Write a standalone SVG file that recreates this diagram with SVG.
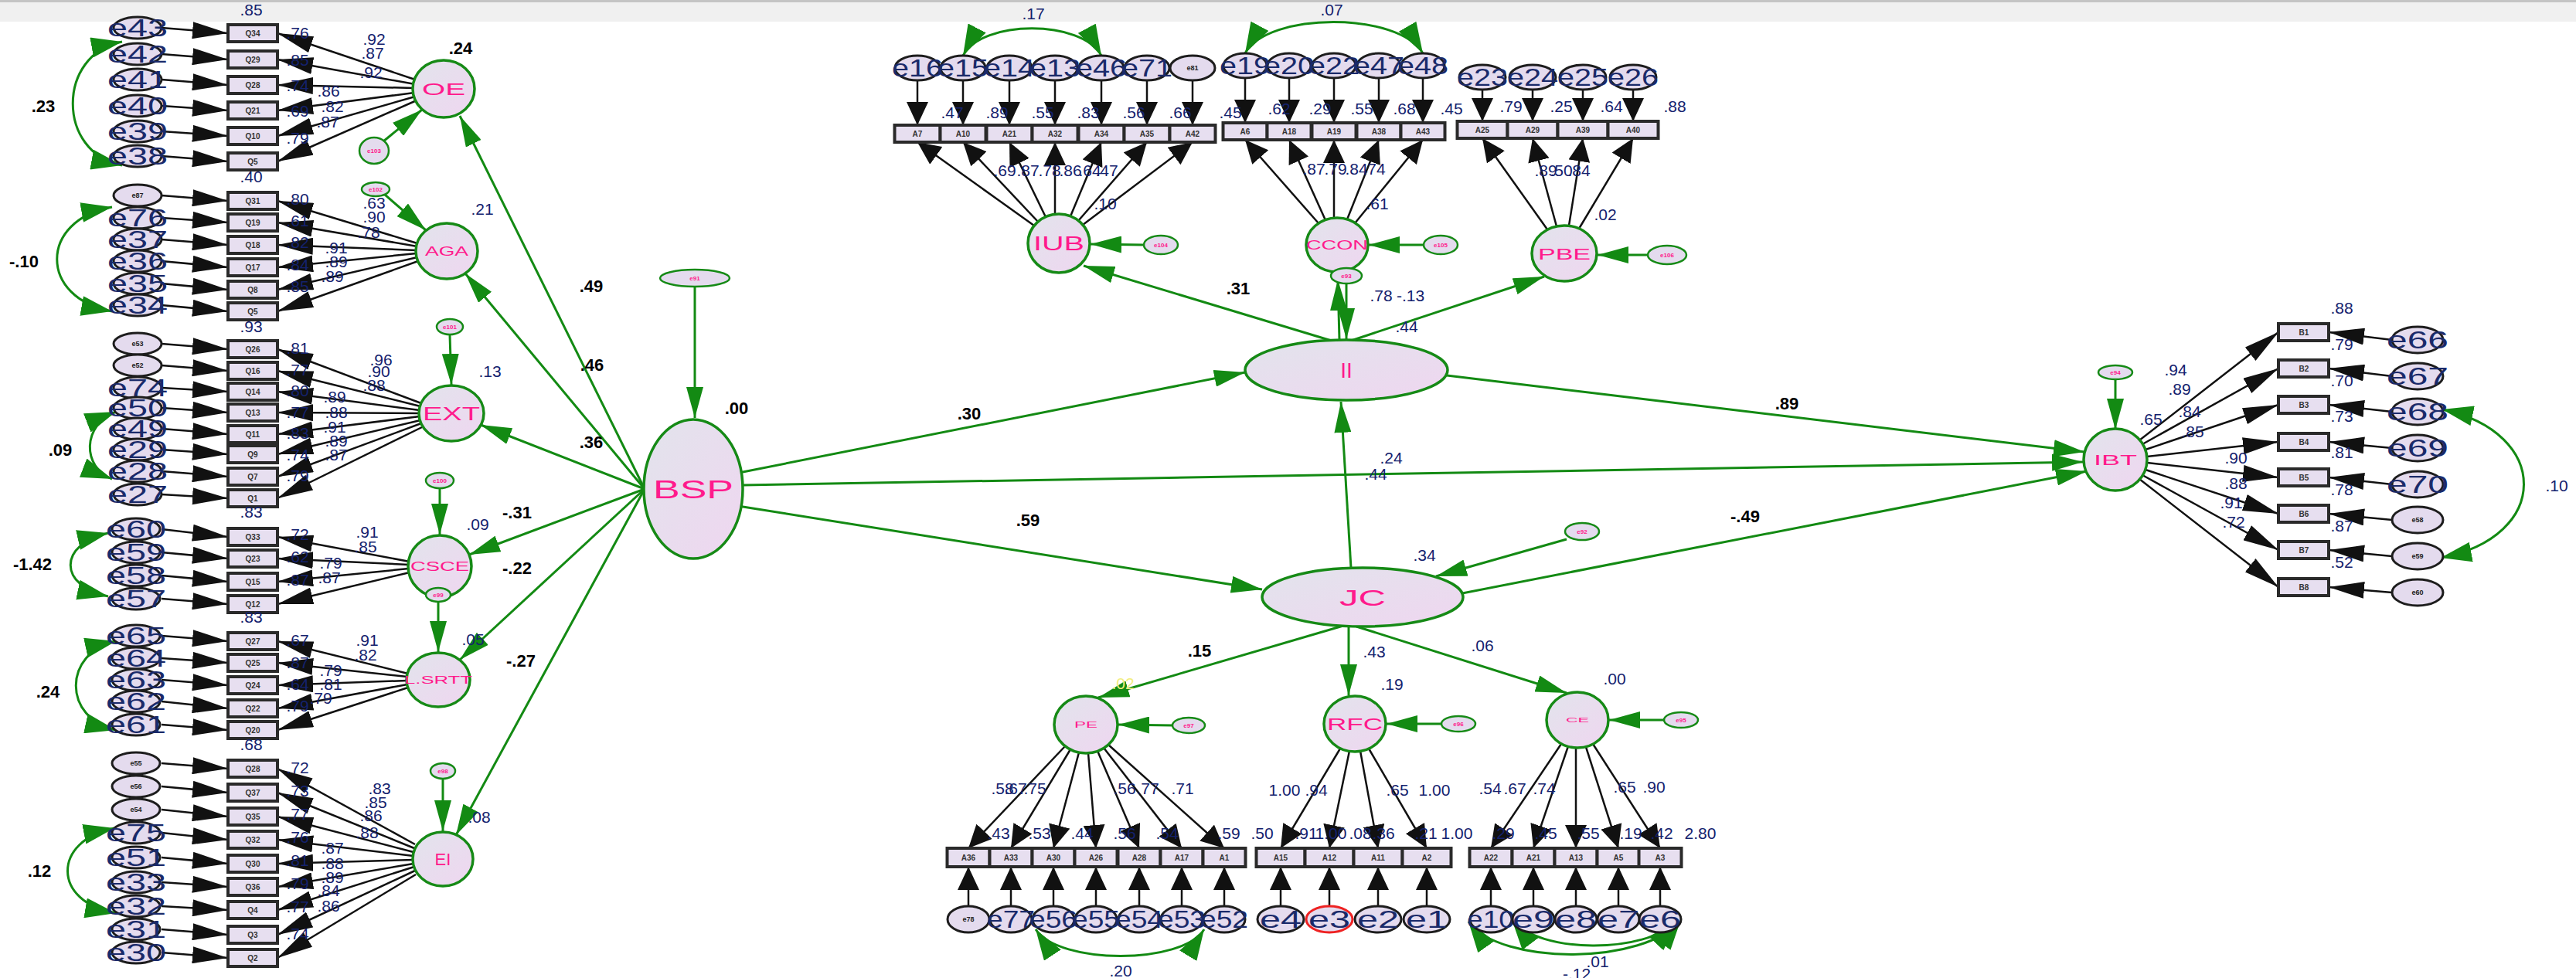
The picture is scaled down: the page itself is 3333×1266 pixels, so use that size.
<svg xmlns="http://www.w3.org/2000/svg" width="3333" height="1266" viewBox="0 0 3333 1266">
<defs>
<linearGradient id="lg" x1="0" y1="0" x2="1" y2="1"><stop offset="0" stop-color="#e2e4ec"/><stop offset="1" stop-color="#efd6f0"/></linearGradient>
<marker id="mb" markerUnits="userSpaceOnUse" viewBox="0 0 46 22" markerWidth="46" markerHeight="22" refX="46" refY="11" orient="auto"><path d="M0,0L46,11L0,22z" fill="#111"/></marker>
<marker id="mv" markerUnits="userSpaceOnUse" viewBox="0 0 30 28" markerWidth="30" markerHeight="28" refX="30" refY="14" orient="auto"><path d="M0,0L30,14L0,28z" fill="#111"/></marker>
<marker id="mg" markerUnits="userSpaceOnUse" viewBox="0 0 40 22" markerWidth="40" markerHeight="22" refX="40" refY="11" orient="auto"><path d="M0,0L40,11L0,22z" fill="#138a13"/></marker>
<marker id="ma" markerUnits="userSpaceOnUse" viewBox="0 0 40 26" markerWidth="40" markerHeight="26" refX="40" refY="13" orient="auto-start-reverse"><path d="M0,0L40,13L0,26z" fill="#138a13"/></marker>
</defs>
<style>
.lat{fill:url(#lg);stroke:#168a16;stroke-width:3.5}
.lt{fill:#ff1a8c;font-family:"Liberation Sans",Arial,sans-serif;text-anchor:middle;dominant-baseline:central}
.err{fill:#e4dbee;stroke:#1d1d1d;stroke-width:3}
.res{fill:#e4dbee;stroke:#168a16;stroke-width:2.5}
.rt{fill:#ff1a8c;font-family:"Liberation Sans",sans-serif;font-size:8px;font-weight:bold;text-anchor:middle;dominant-baseline:central}
.et{fill:#1a2a6a;font-family:"Liberation Sans",sans-serif;font-size:32px;text-anchor:middle;dominant-baseline:central}
.es{fill:#222;font-family:"Liberation Sans",sans-serif;font-size:9px;font-weight:bold;text-anchor:middle;dominant-baseline:central}
.box{fill:#e7dff0;stroke:#2a2a2a;stroke-width:4}
.bt{fill:#333;font-family:"Liberation Sans",sans-serif;font-size:10px;font-weight:bold;text-anchor:middle;dominant-baseline:central}
.ln path{stroke:#111;stroke-width:2.5;fill:none}
.gl path{stroke:#138a13;stroke-width:3;fill:none}
.k{font-family:"Liberation Sans",sans-serif;font-size:22px;font-weight:bold;fill:#000;text-anchor:middle;dominant-baseline:central}
.kb{font-family:"Liberation Sans",sans-serif;font-size:22px;font-weight:bold;fill:#000;text-anchor:middle;dominant-baseline:central}
.b{font-family:"Liberation Sans",sans-serif;font-size:21px;fill:#14226e;text-anchor:middle;dominant-baseline:central}
.y{font-family:"Liberation Sans",sans-serif;font-size:21px;fill:#f2ee80;text-anchor:middle;dominant-baseline:central}
</style>
<rect x="0" y="0" width="3333" height="28" fill="#f0f0f0"/>
<line x1="0" y1="1.5" x2="3333" y2="1.5" stroke="#c4c4c4" stroke-width="3"/>

<g id="connectors">
<g class="ln" marker-end="url(#mb)">
<path d="M209,36L295,43"/><path d="M209,70L295,77"/><path d="M209,103L295,110"/><path d="M209,137L295,143"/><path d="M209,170L295,176"/><path d="M209,202L295,209"/>
<path d="M537,103L359,43"/><path d="M537,109L359,77"/><path d="M536,114L359,110"/><path d="M536,120L359,143"/><path d="M537,125L359,176"/><path d="M539,130L359,209"/>
<path d="M209,253L295,260"/><path d="M209,282L295,288"/><path d="M209,310L295,317"/><path d="M209,338L295,346"/><path d="M209,367L295,375"/><path d="M209,395L295,403"/>
<path d="M540,315L359,260"/><path d="M540,319L359,288"/><path d="M539,324L359,317"/><path d="M539,328L359,346"/><path d="M540,333L359,375"/><path d="M541,338L359,403"/>
<path d="M209,445L295,452"/><path d="M209,473L295,480"/><path d="M209,502L295,507"/><path d="M209,528L295,534"/><path d="M209,555L295,562"/><path d="M209,582L295,588"/><path d="M209,610L295,617"/><path d="M209,640L295,645"/>
<path d="M545,522L359,452"/><path d="M544,526L359,480"/><path d="M543,531L359,507"/><path d="M543,535L359,534"/><path d="M543,539L359,562"/><path d="M544,544L359,588"/><path d="M545,548L359,617"/><path d="M546,553L359,645"/>
<path d="M209,685L295,695"/><path d="M209,715L295,723"/><path d="M209,745L295,753"/><path d="M209,775L295,782"/>
<path d="M530,727L359,695"/><path d="M529,731L359,723"/><path d="M529,736L359,753"/><path d="M530,741L359,782"/>
<path d="M209,823L295,830"/><path d="M209,852L295,858"/><path d="M209,880L295,887"/><path d="M209,908L295,917"/><path d="M209,938L295,945"/>
<path d="M528,872L359,830"/><path d="M527,876L359,858"/><path d="M527,881L359,887"/><path d="M527,886L359,917"/><path d="M528,890L359,945"/>
<path d="M209,988L295,995"/><path d="M209,1018L295,1026"/><path d="M209,1048L295,1057"/><path d="M209,1078L295,1087"/><path d="M209,1110L295,1118"/><path d="M209,1142L295,1148"/><path d="M209,1173L295,1178"/><path d="M209,1203L295,1210"/><path d="M209,1233L295,1240"/>
<path d="M537,1093L359,995"/><path d="M536,1098L359,1026"/><path d="M535,1103L359,1057"/><path d="M535,1108L359,1087"/><path d="M535,1113L359,1118"/><path d="M535,1118L359,1148"/><path d="M536,1122L359,1178"/><path d="M537,1127L359,1210"/><path d="M538,1132L359,1240"/>
<path d="M2768,570L2948,430"/><path d="M2772,575L2948,477"/><path d="M2776,582L2948,524"/><path d="M2778,591L2948,572"/><path d="M2778,599L2948,618"/><path d="M2776,608L2948,665"/><path d="M2772,615L2948,712"/><path d="M2768,620L2948,760"/>
<path d="M3095,440L3013,430"/><path d="M3095,487L3013,477"/><path d="M3095,533L3013,524"/><path d="M3095,580L3013,572"/><path d="M3095,627L3013,618"/><path d="M3095,673L3013,665"/><path d="M3095,720L3013,712"/><path d="M3095,767L3013,760"/>
</g>
<g class="ln" marker-end="url(#mv)">
<path d="M1187,104L1187,162"/><path d="M1246,104L1246,162"/><path d="M1306,104L1306,162"/><path d="M1365,104L1365,162"/><path d="M1425,104L1425,162"/><path d="M1484,104L1484,162"/><path d="M1543,104L1543,162"/>
<path d="M1338,292L1187,184"/><path d="M1343,287L1246,184"/><path d="M1353,281L1306,184"/><path d="M1365,277L1365,184"/><path d="M1385,280L1425,184"/><path d="M1395,286L1484,184"/><path d="M1401,291L1543,184"/>
<path d="M1611,101L1611,159"/><path d="M1668,101L1668,159"/><path d="M1726,101L1726,159"/><path d="M1784,101L1784,159"/><path d="M1841,101L1841,159"/>
<path d="M1706,289L1611,181"/><path d="M1715,285L1668,181"/><path d="M1726,282L1726,181"/><path d="M1743,284L1784,181"/><path d="M1753,289L1841,181"/>
<path d="M1918,116L1918,157"/><path d="M1983,116L1983,157"/><path d="M2048,116L2048,157"/><path d="M2113,116L2113,157"/>
<path d="M2002,297L1918,179"/><path d="M2014,293L1983,179"/><path d="M2030,292L2048,179"/><path d="M2043,296L2113,179"/>
<path d="M1378,966L1253,1098"/><path d="M1385,970L1308,1098"/><path d="M1396,974L1363,1098"/><path d="M1408,975L1418,1098"/><path d="M1420,972L1474,1098"/><path d="M1428,968L1529,1098"/><path d="M1434,964L1584,1098"/>
<path d="M1253,1173L1253,1122"/><path d="M1308,1173L1308,1122"/><path d="M1363,1173L1363,1122"/><path d="M1418,1173L1418,1122"/><path d="M1474,1173L1474,1122"/><path d="M1529,1173L1529,1122"/><path d="M1584,1173L1584,1122"/>
<path d="M1734,969L1657,1098"/><path d="M1746,972L1720,1098"/><path d="M1760,972L1783,1098"/><path d="M1771,969L1846,1098"/>
<path d="M1657,1173L1657,1122"/><path d="M1720,1173L1720,1122"/><path d="M1783,1173L1783,1122"/><path d="M1846,1173L1846,1122"/>
<path d="M2020,963L1929,1098"/><path d="M2029,966L1984,1098"/><path d="M2039,968L2039,1098"/><path d="M2052,967L2094,1098"/><path d="M2061,963L2148,1098"/>
<path d="M1929,1173L1929,1122"/><path d="M1984,1173L1984,1122"/><path d="M2039,1173L2039,1122"/><path d="M2094,1173L2094,1122"/><path d="M2148,1173L2148,1122"/>
</g>
<g class="gl" marker-end="url(#mg)">
<path d="M899,371L899,541"/>
<path d="M834,633L595,150"/><path d="M834,633L602,354"/><path d="M834,633L622,550"/><path d="M834,633L607,718"/><path d="M834,633L595,854"/><path d="M834,633L590,1081"/>
<path d="M956,612L1611,482"/><path d="M961,628L2695,598"/><path d="M955,655L1633,763"/>
<path d="M1748,735L1735,520"/><path d="M1726,442L1402,344"/><path d="M1733,440L1731,362"/><path d="M1742,367L1742,439"/><path d="M1748,441L1998,358"/>
<path d="M1872,486L2697,585"/><path d="M1892,768L2700,610"/><path d="M2027,698L1858,746"/>
<path d="M1738,810L1421,903"/><path d="M1745,811L1745,900"/><path d="M1755,811L2027,897"/>
<path d="M1480,317L1411,316"/><path d="M1842,317L1771,317"/><path d="M2132,330L2067,330"/><path d="M1517,939L1447,938"/><path d="M1865,937L1794,937"/><path d="M2153,932L2082,932"/><path d="M2737,491L2737,556"/>
<path d="M496,183L546,142"/><path d="M498,252L551,298"/><path d="M582,433L584,498"/><path d="M569,632L569,692"/><path d="M567,779L567,844"/><path d="M573,1008L573,1076"/>
</g>
<g class="gl" marker-start="url(#ma)" marker-end="url(#ma)">
<path d="M158,54C73,70 73,198 158,214"/>
<path d="M145,268C50,285 50,386 145,403"/>
<path d="M150,533C106,550 106,605 145,620"/>
<path d="M140,690C75,705 75,758 140,772"/>
<path d="M150,830C81,845 81,930 150,945"/>
<path d="M148,1072C67,1088 67,1168 150,1182"/>
<path d="M3160,530C3301,560 3301,695 3158,722"/>
<path d="M1246,72C1270,25 1400,25 1425,72"/>
<path d="M1611,69C1640,15 1810,15 1841,69"/>
<path d="M1340,1203C1370,1249 1530,1249 1558,1203"/>
<path d="M1900,1193C1940,1250 2130,1250 2175,1190"/>
<path d="M1956,1190C1990,1235 2130,1235 2170,1192"/>
</g>
</g>

<g id="latents">
<g id="OE"><ellipse class="lat" cx="574" cy="115" rx="40" ry="37"/><text class="lt" x="574" y="115" font-size="22" textLength="56" lengthAdjust="spacingAndGlyphs">OE</text></g>
<g id="AGA"><ellipse class="lat" cx="578" cy="325" rx="40" ry="36"/><text class="lt" x="578" y="325" font-size="16" textLength="56" lengthAdjust="spacingAndGlyphs">AGA</text></g>
<g id="EXT"><ellipse class="lat" cx="584" cy="535" rx="42" ry="36"/><text class="lt" x="584" y="535" font-size="24" textLength="74" lengthAdjust="spacingAndGlyphs">EXT</text></g>
<g id="CSCE"><ellipse class="lat" cx="569" cy="733" rx="41" ry="40"/><text class="lt" x="569" y="733" font-size="16" textLength="76" lengthAdjust="spacingAndGlyphs">CSCE</text></g>
<g id="LSRTT"><ellipse class="lat" cx="567" cy="880" rx="41" ry="35"/><text class="lt" x="567" y="880" font-size="14" textLength="88" lengthAdjust="spacingAndGlyphs">L.SRTT</text></g>
<g id="EI"><ellipse class="lat" cx="573" cy="1112" rx="39" ry="35"/><text class="lt" x="573" y="1112" font-size="22">EI</text></g>
<g id="BSP"><ellipse class="lat" cx="897" cy="633" rx="64" ry="90"/><text class="lt" x="897" y="633" font-size="34" textLength="104" lengthAdjust="spacingAndGlyphs">BSP</text></g>
<g id="II"><ellipse class="lat" cx="1742" cy="479" rx="131" ry="39"/><text class="lt" x="1742" y="479" font-size="28">II</text></g>
<g id="JC"><ellipse class="lat" cx="1763" cy="773" rx="130" ry="38"/><text class="lt" x="1763" y="773" font-size="30" textLength="60" lengthAdjust="spacingAndGlyphs">JC</text></g>
<g id="IUB"><ellipse class="lat" cx="1370" cy="315" rx="40" ry="38"/><text class="lt" x="1370" y="315" font-size="26" textLength="66" lengthAdjust="spacingAndGlyphs">IUB</text></g>
<g id="CCON"><ellipse class="lat" cx="1730" cy="317" rx="40" ry="35"/><text class="lt" x="1730" y="317" font-size="17" textLength="80" lengthAdjust="spacingAndGlyphs">CCON</text></g>
<g id="PBE"><ellipse class="lat" cx="2024" cy="328" rx="42" ry="36"/><text class="lt" x="2024" y="328" font-size="21" textLength="68" lengthAdjust="spacingAndGlyphs">PBE</text></g>
<g id="IBT"><ellipse class="lat" cx="2737" cy="595" rx="41" ry="40"/><text class="lt" x="2737" y="595" font-size="19" textLength="56" lengthAdjust="spacingAndGlyphs">IBT</text></g>
<g id="PE"><ellipse class="lat" cx="1405" cy="938" rx="41" ry="37"/><text class="lt" x="1405" y="938" font-size="10" textLength="30" lengthAdjust="spacingAndGlyphs">PE</text></g>
<g id="RFC"><ellipse class="lat" cx="1753" cy="937" rx="40" ry="36"/><text class="lt" x="1753" y="937" font-size="22" textLength="72" lengthAdjust="spacingAndGlyphs">RFC</text></g>
<g id="CE"><ellipse class="lat" cx="2041" cy="932" rx="40" ry="36"/><text class="lt" x="2041" y="932" font-size="9" textLength="30" lengthAdjust="spacingAndGlyphs">CE</text></g>
</g>

<g id="residuals">
<g id="e103"><ellipse class="res" cx="484" cy="195" rx="19" ry="17"/><text class="rt" x="484" y="195">e103</text></g>
<g id="e102"><ellipse class="res" cx="486" cy="245" rx="18" ry="9"/><text class="rt" x="486" y="245">e102</text></g>
<g id="e101"><ellipse class="res" cx="582" cy="423" rx="17" ry="10"/><text class="rt" x="582" y="423">e101</text></g>
<g id="e100"><ellipse class="res" cx="569" cy="622" rx="18" ry="10"/><text class="rt" x="569" y="622">e100</text></g>
<g id="e99"><ellipse class="res" cx="567" cy="770" rx="16" ry="9"/><text class="rt" x="567" y="770">e99</text></g>
<g id="e98"><ellipse class="res" cx="573" cy="998" rx="16" ry="10"/><text class="rt" x="573" y="998">e98</text></g>
<g id="e91"><ellipse class="res" cx="899" cy="360" rx="45" ry="11"/><text class="rt" x="899" y="360">e91</text></g>
<g id="e104"><ellipse class="res" cx="1502" cy="317" rx="22" ry="12"/><text class="rt" x="1502" y="317">e104</text></g>
<g id="e105"><ellipse class="res" cx="1864" cy="317" rx="22" ry="12"/><text class="rt" x="1864" y="317">e105</text></g>
<g id="e106"><ellipse class="res" cx="2157" cy="330" rx="25" ry="12"/><text class="rt" x="2157" y="330">e106</text></g>
<g id="e93"><ellipse class="res" cx="1742" cy="357" rx="20" ry="10"/><text class="rt" x="1742" y="357">e93</text></g>
<g id="e94"><ellipse class="res" cx="2737" cy="482" rx="22" ry="9"/><text class="rt" x="2737" y="482">e94</text></g>
<g id="e92"><ellipse class="res" cx="2047" cy="688" rx="22" ry="11"/><text class="rt" x="2047" y="688">e92</text></g>
<g id="e97"><ellipse class="res" cx="1538" cy="939" rx="21" ry="10"/><text class="rt" x="1538" y="939">e97</text></g>
<g id="e96"><ellipse class="res" cx="1887" cy="937" rx="22" ry="10"/><text class="rt" x="1887" y="937">e96</text></g>
<g id="e95"><ellipse class="res" cx="2175" cy="932" rx="22" ry="10"/><text class="rt" x="2175" y="932">e95</text></g>
</g>

<g id="indicators">
<g id="OE-Q34"><rect class="box" x="295" y="32" width="64" height="22"/><text class="bt" x="327" y="43">Q34</text></g>
<g id="OE-Q29"><rect class="box" x="295" y="66" width="64" height="22"/><text class="bt" x="327" y="77">Q29</text></g>
<g id="OE-Q28"><rect class="box" x="295" y="99" width="64" height="22"/><text class="bt" x="327" y="110">Q28</text></g>
<g id="OE-Q21"><rect class="box" x="295" y="132" width="64" height="22"/><text class="bt" x="327" y="143">Q21</text></g>
<g id="OE-Q10"><rect class="box" x="295" y="165" width="64" height="22"/><text class="bt" x="327" y="176">Q10</text></g>
<g id="OE-Q5"><rect class="box" x="295" y="198" width="64" height="22"/><text class="bt" x="327" y="209">Q5</text></g>
<g id="AGA-Q31"><rect class="box" x="295" y="249" width="64" height="22"/><text class="bt" x="327" y="260">Q31</text></g>
<g id="AGA-Q19"><rect class="box" x="295" y="277" width="64" height="22"/><text class="bt" x="327" y="288">Q19</text></g>
<g id="AGA-Q18"><rect class="box" x="295" y="306" width="64" height="22"/><text class="bt" x="327" y="317">Q18</text></g>
<g id="AGA-Q17"><rect class="box" x="295" y="335" width="64" height="22"/><text class="bt" x="327" y="346">Q17</text></g>
<g id="AGA-Q8"><rect class="box" x="295" y="364" width="64" height="22"/><text class="bt" x="327" y="375">Q8</text></g>
<g id="AGA-Q5"><rect class="box" x="295" y="392" width="64" height="22"/><text class="bt" x="327" y="403">Q5</text></g>
<g id="EXT-Q26"><rect class="box" x="295" y="441" width="64" height="22"/><text class="bt" x="327" y="452">Q26</text></g>
<g id="EXT-Q16"><rect class="box" x="295" y="469" width="64" height="22"/><text class="bt" x="327" y="480">Q16</text></g>
<g id="EXT-Q14"><rect class="box" x="295" y="496" width="64" height="22"/><text class="bt" x="327" y="507">Q14</text></g>
<g id="EXT-Q13"><rect class="box" x="295" y="523" width="64" height="22"/><text class="bt" x="327" y="534">Q13</text></g>
<g id="EXT-Q11"><rect class="box" x="295" y="551" width="64" height="22"/><text class="bt" x="327" y="562">Q11</text></g>
<g id="EXT-Q9"><rect class="box" x="295" y="577" width="64" height="22"/><text class="bt" x="327" y="588">Q9</text></g>
<g id="EXT-Q7"><rect class="box" x="295" y="606" width="64" height="22"/><text class="bt" x="327" y="617">Q7</text></g>
<g id="EXT-Q1"><rect class="box" x="295" y="634" width="64" height="22"/><text class="bt" x="327" y="645">Q1</text></g>
<g id="CSCE-Q33"><rect class="box" x="295" y="684" width="64" height="22"/><text class="bt" x="327" y="695">Q33</text></g>
<g id="CSCE-Q23"><rect class="box" x="295" y="712" width="64" height="22"/><text class="bt" x="327" y="723">Q23</text></g>
<g id="CSCE-Q15"><rect class="box" x="295" y="742" width="64" height="22"/><text class="bt" x="327" y="753">Q15</text></g>
<g id="CSCE-Q12"><rect class="box" x="295" y="771" width="64" height="22"/><text class="bt" x="327" y="782">Q12</text></g>
<g id="LSRTT-Q27"><rect class="box" x="295" y="819" width="64" height="22"/><text class="bt" x="327" y="830">Q27</text></g>
<g id="LSRTT-Q25"><rect class="box" x="295" y="847" width="64" height="22"/><text class="bt" x="327" y="858">Q25</text></g>
<g id="LSRTT-Q24"><rect class="box" x="295" y="876" width="64" height="22"/><text class="bt" x="327" y="887">Q24</text></g>
<g id="LSRTT-Q22"><rect class="box" x="295" y="906" width="64" height="22"/><text class="bt" x="327" y="917">Q22</text></g>
<g id="LSRTT-Q20"><rect class="box" x="295" y="934" width="64" height="22"/><text class="bt" x="327" y="945">Q20</text></g>
<g id="EI-Q28"><rect class="box" x="295" y="984" width="64" height="22"/><text class="bt" x="327" y="995">Q28</text></g>
<g id="EI-Q37"><rect class="box" x="295" y="1015" width="64" height="22"/><text class="bt" x="327" y="1026">Q37</text></g>
<g id="EI-Q35"><rect class="box" x="295" y="1046" width="64" height="22"/><text class="bt" x="327" y="1057">Q35</text></g>
<g id="EI-Q32"><rect class="box" x="295" y="1076" width="64" height="22"/><text class="bt" x="327" y="1087">Q32</text></g>
<g id="EI-Q30"><rect class="box" x="295" y="1107" width="64" height="22"/><text class="bt" x="327" y="1118">Q30</text></g>
<g id="EI-Q36"><rect class="box" x="295" y="1137" width="64" height="22"/><text class="bt" x="327" y="1148">Q36</text></g>
<g id="EI-Q4"><rect class="box" x="295" y="1167" width="64" height="22"/><text class="bt" x="327" y="1178">Q4</text></g>
<g id="EI-Q3"><rect class="box" x="295" y="1199" width="64" height="22"/><text class="bt" x="327" y="1210">Q3</text></g>
<g id="EI-Q2"><rect class="box" x="295" y="1229" width="64" height="22"/><text class="bt" x="327" y="1240">Q2</text></g>
<g id="A7"><rect class="box" x="1157.5" y="162" width="59" height="22"/><text class="bt" x="1187" y="173">A7</text></g>
<g id="A10"><rect class="box" x="1216.5" y="162" width="59" height="22"/><text class="bt" x="1246" y="173">A10</text></g>
<g id="A21"><rect class="box" x="1276.5" y="162" width="59" height="22"/><text class="bt" x="1306" y="173">A21</text></g>
<g id="A32"><rect class="box" x="1335.5" y="162" width="59" height="22"/><text class="bt" x="1365" y="173">A32</text></g>
<g id="A34"><rect class="box" x="1395.5" y="162" width="59" height="22"/><text class="bt" x="1425" y="173">A34</text></g>
<g id="A35"><rect class="box" x="1454.5" y="162" width="59" height="22"/><text class="bt" x="1484" y="173">A35</text></g>
<g id="A42"><rect class="box" x="1513.5" y="162" width="59" height="22"/><text class="bt" x="1543" y="173">A42</text></g>
<g id="A6"><rect class="box" x="1582.5" y="159" width="57" height="22"/><text class="bt" x="1611" y="170">A6</text></g>
<g id="A18"><rect class="box" x="1639.5" y="159" width="57" height="22"/><text class="bt" x="1668" y="170">A18</text></g>
<g id="A19"><rect class="box" x="1697.5" y="159" width="57" height="22"/><text class="bt" x="1726" y="170">A19</text></g>
<g id="A38"><rect class="box" x="1755.5" y="159" width="57" height="22"/><text class="bt" x="1784" y="170">A38</text></g>
<g id="A43"><rect class="box" x="1812.5" y="159" width="57" height="22"/><text class="bt" x="1841" y="170">A43</text></g>
<g id="A25"><rect class="box" x="1885.5" y="157" width="65" height="22"/><text class="bt" x="1918" y="168">A25</text></g>
<g id="A29"><rect class="box" x="1950.5" y="157" width="65" height="22"/><text class="bt" x="1983" y="168">A29</text></g>
<g id="A39"><rect class="box" x="2015.5" y="157" width="65" height="22"/><text class="bt" x="2048" y="168">A39</text></g>
<g id="A40"><rect class="box" x="2080.5" y="157" width="65" height="22"/><text class="bt" x="2113" y="168">A40</text></g>
<g id="A36"><rect class="box" x="1225.5" y="1098" width="55" height="24"/><text class="bt" x="1253" y="1110">A36</text></g>
<g id="A33"><rect class="box" x="1280.5" y="1098" width="55" height="24"/><text class="bt" x="1308" y="1110" font-size="15">A33</text></g>
<g id="A30"><rect class="box" x="1335.5" y="1098" width="55" height="24"/><text class="bt" x="1363" y="1110" font-size="15">A30</text></g>
<g id="A26"><rect class="box" x="1390.5" y="1098" width="55" height="24"/><text class="bt" x="1418" y="1110" font-size="15">A26</text></g>
<g id="A28"><rect class="box" x="1446.5" y="1098" width="55" height="24"/><text class="bt" x="1474" y="1110">A28</text></g>
<g id="A17"><rect class="box" x="1501.5" y="1098" width="55" height="24"/><text class="bt" x="1529" y="1110">A17</text></g>
<g id="A1"><rect class="box" x="1556.5" y="1098" width="55" height="24"/><text class="bt" x="1584" y="1110" font-size="15">A1</text></g>
<g id="A15"><rect class="box" x="1625.5" y="1098" width="63" height="24"/><text class="bt" x="1657" y="1110">A15</text></g>
<g id="A12"><rect class="box" x="1688.5" y="1098" width="63" height="24"/><text class="bt" x="1720" y="1110">A12</text></g>
<g id="A11"><rect class="box" x="1751.5" y="1098" width="63" height="24"/><text class="bt" x="1783" y="1110">A11</text></g>
<g id="A2"><rect class="box" x="1814.5" y="1098" width="63" height="24"/><text class="bt" x="1846" y="1110">A2</text></g>
<g id="A22"><rect class="box" x="1901.5" y="1098" width="55" height="24"/><text class="bt" x="1929" y="1110">A22</text></g>
<g id="A21b"><rect class="box" x="1956.5" y="1098" width="55" height="24"/><text class="bt" x="1984" y="1110">A21</text></g>
<g id="A13"><rect class="box" x="2011.5" y="1098" width="55" height="24"/><text class="bt" x="2039" y="1110">A13</text></g>
<g id="A5"><rect class="box" x="2066.5" y="1098" width="55" height="24"/><text class="bt" x="2094" y="1110">A5</text></g>
<g id="A3"><rect class="box" x="2120.5" y="1098" width="55" height="24"/><text class="bt" x="2148" y="1110">A3</text></g>
<g id="B1"><rect class="box" x="2948" y="419" width="65" height="22"/><text class="bt" x="2981" y="430">B1</text></g>
<g id="B2"><rect class="box" x="2948" y="466" width="65" height="22"/><text class="bt" x="2981" y="477">B2</text></g>
<g id="B3"><rect class="box" x="2948" y="513" width="65" height="22"/><text class="bt" x="2981" y="524">B3</text></g>
<g id="B4"><rect class="box" x="2948" y="561" width="65" height="22"/><text class="bt" x="2981" y="572">B4</text></g>
<g id="B5"><rect class="box" x="2948" y="607" width="65" height="22"/><text class="bt" x="2981" y="618">B5</text></g>
<g id="B6"><rect class="box" x="2948" y="654" width="65" height="22"/><text class="bt" x="2981" y="665">B6</text></g>
<g id="B7"><rect class="box" x="2948" y="701" width="65" height="22"/><text class="bt" x="2981" y="712">B7</text></g>
<g id="B8"><rect class="box" x="2948" y="749" width="65" height="22"/><text class="bt" x="2981" y="760">B8</text></g>
</g>

<g id="errors">
<g id="e43"><ellipse class="err" cx="178" cy="36" rx="31" ry="14"/><text class="et" x="178" y="36" textLength="78" lengthAdjust="spacingAndGlyphs">e43</text></g>
<g id="e42"><ellipse class="err" cx="178" cy="70" rx="31" ry="14"/><text class="et" x="178" y="70" textLength="78" lengthAdjust="spacingAndGlyphs">e42</text></g>
<g id="e41"><ellipse class="err" cx="178" cy="103" rx="31" ry="14"/><text class="et" x="178" y="103" textLength="78" lengthAdjust="spacingAndGlyphs">e41</text></g>
<g id="e40"><ellipse class="err" cx="178" cy="137" rx="31" ry="14"/><text class="et" x="178" y="137" textLength="78" lengthAdjust="spacingAndGlyphs">e40</text></g>
<g id="e39"><ellipse class="err" cx="178" cy="170" rx="31" ry="14"/><text class="et" x="178" y="170" textLength="78" lengthAdjust="spacingAndGlyphs">e39</text></g>
<g id="e38"><ellipse class="err" cx="178" cy="202" rx="31" ry="14"/><text class="et" x="178" y="202" textLength="78" lengthAdjust="spacingAndGlyphs">e38</text></g>
<g id="e87"><ellipse class="err" cx="178" cy="253" rx="31" ry="14"/><text class="es" x="178" y="253">e87</text></g>
<g id="e76"><ellipse class="err" cx="178" cy="282" rx="31" ry="14"/><text class="et" x="178" y="282" textLength="78" lengthAdjust="spacingAndGlyphs">e76</text></g>
<g id="e37"><ellipse class="err" cx="178" cy="310" rx="31" ry="14"/><text class="et" x="178" y="310" textLength="78" lengthAdjust="spacingAndGlyphs">e37</text></g>
<g id="e36"><ellipse class="err" cx="178" cy="338" rx="31" ry="14"/><text class="et" x="178" y="338" textLength="78" lengthAdjust="spacingAndGlyphs">e36</text></g>
<g id="e35"><ellipse class="err" cx="178" cy="367" rx="31" ry="14"/><text class="et" x="178" y="367" textLength="78" lengthAdjust="spacingAndGlyphs">e35</text></g>
<g id="e34"><ellipse class="err" cx="178" cy="395" rx="31" ry="14"/><text class="et" x="178" y="395" textLength="78" lengthAdjust="spacingAndGlyphs">e34</text></g>
<g id="e53"><ellipse class="err" cx="178" cy="445" rx="31" ry="14"/><text class="es" x="178" y="445">e53</text></g>
<g id="e52"><ellipse class="err" cx="178" cy="473" rx="31" ry="14"/><text class="es" x="178" y="473">e52</text></g>
<g id="e74"><ellipse class="err" cx="178" cy="502" rx="31" ry="14"/><text class="et" x="178" y="502" textLength="78" lengthAdjust="spacingAndGlyphs">e74</text></g>
<g id="e50"><ellipse class="err" cx="178" cy="528" rx="31" ry="14"/><text class="et" x="178" y="528" textLength="78" lengthAdjust="spacingAndGlyphs">e50</text></g>
<g id="e49"><ellipse class="err" cx="178" cy="555" rx="31" ry="14"/><text class="et" x="178" y="555" textLength="78" lengthAdjust="spacingAndGlyphs">e49</text></g>
<g id="e29"><ellipse class="err" cx="178" cy="582" rx="31" ry="14"/><text class="et" x="178" y="582" textLength="78" lengthAdjust="spacingAndGlyphs">e29</text></g>
<g id="e28"><ellipse class="err" cx="178" cy="610" rx="31" ry="14"/><text class="et" x="178" y="610" textLength="78" lengthAdjust="spacingAndGlyphs">e28</text></g>
<g id="e27"><ellipse class="err" cx="178" cy="640" rx="31" ry="14"/><text class="et" x="178" y="640" textLength="78" lengthAdjust="spacingAndGlyphs">e27</text></g>
<g id="e60"><ellipse class="err" cx="176" cy="685" rx="31" ry="14"/><text class="et" x="176" y="685" textLength="78" lengthAdjust="spacingAndGlyphs">e60</text></g>
<g id="e59"><ellipse class="err" cx="176" cy="715" rx="31" ry="14"/><text class="et" x="176" y="715" textLength="78" lengthAdjust="spacingAndGlyphs">e59</text></g>
<g id="e58"><ellipse class="err" cx="176" cy="745" rx="31" ry="14"/><text class="et" x="176" y="745" textLength="78" lengthAdjust="spacingAndGlyphs">e58</text></g>
<g id="e57"><ellipse class="err" cx="176" cy="775" rx="31" ry="14"/><text class="et" x="176" y="775" textLength="78" lengthAdjust="spacingAndGlyphs">e57</text></g>
<g id="e65"><ellipse class="err" cx="176" cy="823" rx="31" ry="14"/><text class="et" x="176" y="823" textLength="78" lengthAdjust="spacingAndGlyphs">e65</text></g>
<g id="e64"><ellipse class="err" cx="176" cy="852" rx="31" ry="14"/><text class="et" x="176" y="852" textLength="78" lengthAdjust="spacingAndGlyphs">e64</text></g>
<g id="e63"><ellipse class="err" cx="176" cy="880" rx="31" ry="14"/><text class="et" x="176" y="880" textLength="78" lengthAdjust="spacingAndGlyphs">e63</text></g>
<g id="e62"><ellipse class="err" cx="176" cy="908" rx="31" ry="14"/><text class="et" x="176" y="908" textLength="78" lengthAdjust="spacingAndGlyphs">e62</text></g>
<g id="e61"><ellipse class="err" cx="176" cy="938" rx="31" ry="14"/><text class="et" x="176" y="938" textLength="78" lengthAdjust="spacingAndGlyphs">e61</text></g>
<g id="e55"><ellipse class="err" cx="176" cy="988" rx="31" ry="14"/><text class="es" x="176" y="988">e55</text></g>
<g id="e56"><ellipse class="err" cx="176" cy="1018" rx="31" ry="14"/><text class="es" x="176" y="1018">e56</text></g>
<g id="e54"><ellipse class="err" cx="176" cy="1048" rx="31" ry="14"/><text class="es" x="176" y="1048">e54</text></g>
<g id="e75"><ellipse class="err" cx="176" cy="1078" rx="31" ry="14"/><text class="et" x="176" y="1078" textLength="78" lengthAdjust="spacingAndGlyphs">e75</text></g>
<g id="e51"><ellipse class="err" cx="176" cy="1110" rx="31" ry="14"/><text class="et" x="176" y="1110" textLength="78" lengthAdjust="spacingAndGlyphs">e51</text></g>
<g id="e33"><ellipse class="err" cx="176" cy="1142" rx="31" ry="14"/><text class="et" x="176" y="1142" textLength="78" lengthAdjust="spacingAndGlyphs">e33</text></g>
<g id="e32"><ellipse class="err" cx="176" cy="1173" rx="31" ry="14"/><text class="et" x="176" y="1173" textLength="78" lengthAdjust="spacingAndGlyphs">e32</text></g>
<g id="e31"><ellipse class="err" cx="176" cy="1203" rx="31" ry="14"/><text class="et" x="176" y="1203" textLength="78" lengthAdjust="spacingAndGlyphs">e31</text></g>
<g id="e30"><ellipse class="err" cx="176" cy="1233" rx="31" ry="14"/><text class="et" x="176" y="1233" textLength="78" lengthAdjust="spacingAndGlyphs">e30</text></g>
<g id="e16"><ellipse class="err" cx="1187" cy="88" rx="29" ry="16"/><text class="et" x="1187" y="88" textLength="66" lengthAdjust="spacingAndGlyphs">e16</text></g>
<g id="e15"><ellipse class="err" cx="1246" cy="88" rx="29" ry="16"/><text class="et" x="1246" y="88" textLength="66" lengthAdjust="spacingAndGlyphs">e15</text></g>
<g id="e14"><ellipse class="err" cx="1306" cy="88" rx="29" ry="16"/><text class="et" x="1306" y="88" textLength="66" lengthAdjust="spacingAndGlyphs">e14</text></g>
<g id="e13"><ellipse class="err" cx="1365" cy="88" rx="29" ry="16"/><text class="et" x="1365" y="88" textLength="66" lengthAdjust="spacingAndGlyphs">e13</text></g>
<g id="e46"><ellipse class="err" cx="1425" cy="88" rx="29" ry="16"/><text class="et" x="1425" y="88" textLength="66" lengthAdjust="spacingAndGlyphs">e46</text></g>
<g id="e71"><ellipse class="err" cx="1484" cy="88" rx="29" ry="16"/><text class="et" x="1484" y="88" textLength="66" lengthAdjust="spacingAndGlyphs">e71</text></g>
<g id="e81"><ellipse class="err" cx="1543" cy="88" rx="29" ry="16"/><text class="es" x="1543" y="88">e81</text></g>
<g id="e19"><ellipse class="err" cx="1611" cy="85" rx="28" ry="16"/><text class="et" x="1611" y="85" textLength="66" lengthAdjust="spacingAndGlyphs">e19</text></g>
<g id="e20"><ellipse class="err" cx="1668" cy="85" rx="28" ry="16"/><text class="et" x="1668" y="85" textLength="66" lengthAdjust="spacingAndGlyphs">e20</text></g>
<g id="e22"><ellipse class="err" cx="1726" cy="85" rx="28" ry="16"/><text class="et" x="1726" y="85" textLength="66" lengthAdjust="spacingAndGlyphs">e22</text></g>
<g id="e47"><ellipse class="err" cx="1784" cy="85" rx="28" ry="16"/><text class="et" x="1784" y="85" textLength="66" lengthAdjust="spacingAndGlyphs">e47</text></g>
<g id="e48"><ellipse class="err" cx="1841" cy="85" rx="28" ry="16"/><text class="et" x="1841" y="85" textLength="66" lengthAdjust="spacingAndGlyphs">e48</text></g>
<g id="e23"><ellipse class="err" cx="1918" cy="100" rx="30" ry="16"/><text class="et" x="1918" y="100" textLength="66" lengthAdjust="spacingAndGlyphs">e23</text></g>
<g id="e24"><ellipse class="err" cx="1983" cy="100" rx="30" ry="16"/><text class="et" x="1983" y="100" textLength="66" lengthAdjust="spacingAndGlyphs">e24</text></g>
<g id="e25"><ellipse class="err" cx="2048" cy="100" rx="30" ry="16"/><text class="et" x="2048" y="100" textLength="66" lengthAdjust="spacingAndGlyphs">e25</text></g>
<g id="e26"><ellipse class="err" cx="2113" cy="100" rx="30" ry="16"/><text class="et" x="2113" y="100" textLength="66" lengthAdjust="spacingAndGlyphs">e26</text></g>
<g id="e78"><ellipse class="err" cx="1253" cy="1190" rx="27" ry="17"/><text class="es" x="1253" y="1190">e78</text></g>
<g id="e77"><ellipse class="err" cx="1308" cy="1190" rx="27" ry="17"/><text class="et" x="1308" y="1190" font-size="30" textLength="62" lengthAdjust="spacingAndGlyphs">e77</text></g>
<g id="e56b"><ellipse class="err" cx="1363" cy="1190" rx="27" ry="17"/><text class="et" x="1363" y="1190" font-size="30" textLength="62" lengthAdjust="spacingAndGlyphs">e56</text></g>
<g id="e55b"><ellipse class="err" cx="1418" cy="1190" rx="27" ry="17"/><text class="et" x="1418" y="1190" font-size="30" textLength="62" lengthAdjust="spacingAndGlyphs">e55</text></g>
<g id="e54b"><ellipse class="err" cx="1474" cy="1190" rx="27" ry="17"/><text class="et" x="1474" y="1190" font-size="30" textLength="62" lengthAdjust="spacingAndGlyphs">e54</text></g>
<g id="e53b"><ellipse class="err" cx="1529" cy="1190" rx="27" ry="17"/><text class="et" x="1529" y="1190" font-size="30" textLength="62" lengthAdjust="spacingAndGlyphs">e53</text></g>
<g id="e52b"><ellipse class="err" cx="1584" cy="1190" rx="27" ry="17"/><text class="et" x="1584" y="1190" font-size="30" textLength="62" lengthAdjust="spacingAndGlyphs">e52</text></g>
<g id="e4"><ellipse class="err" cx="1657" cy="1190" rx="30" ry="17"/><text class="et" x="1657" y="1190" font-size="30" textLength="54" lengthAdjust="spacingAndGlyphs">e4</text></g>
<g id="e3"><ellipse class="err" cx="1720" cy="1190" rx="30" ry="17" style="stroke:#ee2222"/><text class="et" x="1720" y="1190" font-size="30" textLength="54" lengthAdjust="spacingAndGlyphs">e3</text></g>
<g id="e2"><ellipse class="err" cx="1783" cy="1190" rx="30" ry="17"/><text class="et" x="1783" y="1190" font-size="30" textLength="54" lengthAdjust="spacingAndGlyphs">e2</text></g>
<g id="e1"><ellipse class="err" cx="1846" cy="1190" rx="30" ry="17"/><text class="et" x="1846" y="1190" font-size="30" textLength="54" lengthAdjust="spacingAndGlyphs">e1</text></g>
<g id="e10"><ellipse class="err" cx="1929" cy="1190" rx="27" ry="17"/><text class="et" x="1929" y="1190" font-size="30" textLength="62" lengthAdjust="spacingAndGlyphs">e10</text></g>
<g id="e9"><ellipse class="err" cx="1984" cy="1190" rx="27" ry="17"/><text class="et" x="1984" y="1190" font-size="30" textLength="54" lengthAdjust="spacingAndGlyphs">e9</text></g>
<g id="e8"><ellipse class="err" cx="2039" cy="1190" rx="27" ry="17"/><text class="et" x="2039" y="1190" font-size="30" textLength="54" lengthAdjust="spacingAndGlyphs">e8</text></g>
<g id="e7"><ellipse class="err" cx="2094" cy="1190" rx="27" ry="17"/><text class="et" x="2094" y="1190" font-size="30" textLength="54" lengthAdjust="spacingAndGlyphs">e7</text></g>
<g id="e6"><ellipse class="err" cx="2148" cy="1190" rx="27" ry="17"/><text class="et" x="2148" y="1190" font-size="30" textLength="54" lengthAdjust="spacingAndGlyphs">e6</text></g>
<g id="e66"><ellipse class="err" cx="3128" cy="440" rx="33" ry="17"/><text class="et" x="3128" y="440" font-size="30" textLength="80" lengthAdjust="spacingAndGlyphs">e66</text></g>
<g id="e67"><ellipse class="err" cx="3128" cy="487" rx="33" ry="17"/><text class="et" x="3128" y="487" font-size="30" textLength="80" lengthAdjust="spacingAndGlyphs">e67</text></g>
<g id="e68"><ellipse class="err" cx="3128" cy="533" rx="33" ry="17"/><text class="et" x="3128" y="533" font-size="30" textLength="80" lengthAdjust="spacingAndGlyphs">e68</text></g>
<g id="e69"><ellipse class="err" cx="3128" cy="580" rx="33" ry="17"/><text class="et" x="3128" y="580" font-size="30" textLength="80" lengthAdjust="spacingAndGlyphs">e69</text></g>
<g id="e70"><ellipse class="err" cx="3128" cy="627" rx="33" ry="17"/><text class="et" x="3128" y="627" font-size="30" textLength="80" lengthAdjust="spacingAndGlyphs">e70</text></g>
<g id="e58b"><ellipse class="err" cx="3128" cy="673" rx="33" ry="17"/><text class="es" x="3128" y="673">e58</text></g>
<g id="e59b"><ellipse class="err" cx="3128" cy="720" rx="33" ry="17"/><text class="es" x="3128" y="720">e59</text></g>
<g id="e60b"><ellipse class="err" cx="3128" cy="767" rx="33" ry="17"/><text class="es" x="3128" y="767">e60</text></g>
</g>

<g id="labels">
<text class="kb" x="56" y="137">.23</text>
<text class="kb" x="31" y="338">-.10</text>
<text class="kb" x="78" y="582">.09</text>
<text class="kb" x="42" y="730">-1.42</text>
<text class="kb" x="62" y="895">.24</text>
<text class="kb" x="51" y="1127">.12</text>
<text class="kb" x="596" y="62">.24</text>
<text class="b" x="624" y="270">.21</text>
<text class="b" x="634" y="480">.13</text>
<text class="b" x="618" y="678">.09</text>
<text class="b" x="612" y="827">.05</text>
<text class="b" x="620" y="1057">.08</text>
<text class="kb" x="765" y="370">.49</text>
<text class="kb" x="766" y="472">.46</text>
<text class="kb" x="765" y="572">.36</text>
<text class="kb" x="669" y="663">-.31</text>
<text class="kb" x="669" y="735">-.22</text>
<text class="kb" x="674" y="855">-.27</text>
<text class="b" x="325" y="12">.85</text>
<text class="b" x="385" y="42">.76</text><text class="b" x="385" y="77">.85</text><text class="b" x="385" y="110">.74</text><text class="b" x="385" y="143">.69</text><text class="b" x="385" y="178">.79</text>
<text class="b" x="484" y="50">.92</text><text class="b" x="482" y="68">.87</text><text class="b" x="480" y="93">.92</text><text class="b" x="425" y="117">.86</text><text class="b" x="430" y="137">.82</text><text class="b" x="424" y="157">.87</text>
<text class="b" x="325" y="228">.40</text>
<text class="b" x="385" y="257">.80</text><text class="b" x="385" y="285">.61</text><text class="b" x="385" y="313">.82</text><text class="b" x="385" y="342">.84</text><text class="b" x="385" y="370">.85</text>
<text class="b" x="484" y="262">.63</text><text class="b" x="484" y="280">.90</text><text class="b" x="477" y="300">.78</text><text class="b" x="435" y="320">.91</text><text class="b" x="435" y="338">.89</text><text class="b" x="430" y="357">.89</text>
<text class="b" x="325" y="422">.93</text>
<text class="b" x="385" y="450">.81</text><text class="b" x="385" y="478">.77</text><text class="b" x="385" y="505">.80</text><text class="b" x="385" y="533">.77</text><text class="b" x="385" y="560">.83</text><text class="b" x="385" y="588">.74</text><text class="b" x="385" y="615">.79</text>
<text class="b" x="493" y="465">.96</text><text class="b" x="490" y="480">.90</text><text class="b" x="484" y="498">.88</text><text class="b" x="433" y="513">.89</text><text class="b" x="435" y="533">.88</text><text class="b" x="433" y="552">.91</text><text class="b" x="435" y="570">.89</text><text class="b" x="435" y="588">.87</text>
<text class="b" x="325" y="662">.83</text>
<text class="b" x="475" y="688">.91</text><text class="b" x="473" y="707">.85</text><text class="b" x="428" y="728">.79</text><text class="b" x="426" y="747">.87</text>
<text class="b" x="385" y="691">.72</text><text class="b" x="385" y="720">.62</text><text class="b" x="385" y="750">.87</text>
<text class="b" x="325" y="798">.83</text>
<text class="b" x="475" y="828">.91</text><text class="b" x="473" y="847">.82</text><text class="b" x="428" y="867">.79</text><text class="b" x="428" y="885">.81</text><text class="b" x="415" y="903">.79</text>
<text class="b" x="385" y="828">.67</text><text class="b" x="385" y="857">.87</text><text class="b" x="385" y="885">.64</text><text class="b" x="385" y="913">.79</text>
<text class="b" x="325" y="963">.68</text>
<text class="b" x="491" y="1020">.83</text><text class="b" x="486" y="1038">.85</text><text class="b" x="480" y="1055">.86</text><text class="b" x="475" y="1077">.88</text><text class="b" x="430" y="1097">.87</text><text class="b" x="430" y="1117">.88</text><text class="b" x="430" y="1135">.89</text><text class="b" x="425" y="1152">.84</text><text class="b" x="425" y="1172">.86</text>
<text class="b" x="385" y="993">.72</text><text class="b" x="385" y="1023">.73</text><text class="b" x="385" y="1053">.77</text><text class="b" x="385" y="1083">.76</text><text class="b" x="385" y="1113">.81</text><text class="b" x="385" y="1143">.79</text><text class="b" x="385" y="1173">.77</text><text class="b" x="385" y="1208">.74</text>
<text class="kb" x="953" y="528">.00</text>
<text class="k" x="1254" y="535">.30</text>
<text class="k" x="1330" y="673">.59</text>
<text class="kb" x="1602" y="373">.31</text>
<text class="b" x="1787" y="382">.78</text>
<text class="b" x="1825" y="382">-.13</text>
<text class="b" x="1820" y="422">.44</text>
<text class="b" x="1800" y="592">.24</text>
<text class="b" x="1780" y="613">.44</text>
<text class="b" x="1843" y="718">.34</text>
<text class="k" x="2312" y="522">.89</text>
<text class="k" x="2258" y="668">-.49</text>
<text class="kb" x="1552" y="842">.15</text>
<text class="y" x="1453" y="884">.02</text>
<text class="b" x="1778" y="843">.43</text>
<text class="b" x="1801" y="885">.19</text>
<text class="b" x="1918" y="835">.06</text>
<text class="b" x="2089" y="878">.00</text>
<text class="b" x="1337" y="17">.17</text>
<text class="b" x="1723" y="12">.07</text>
<text class="b" x="1430" y="263">.10</text>
<text class="b" x="1782" y="263">.61</text>
<text class="b" x="2077" y="277">.02</text>
<text class="b" x="1232" y="145">.47</text><text class="b" x="1290" y="145">.89</text><text class="b" x="1349" y="145">.55</text><text class="b" x="1408" y="145">.83</text><text class="b" x="1467" y="145">.56</text><text class="b" x="1527" y="145">.66</text><text class="b" x="1592" y="145">.45</text>
<text class="b" x="1300" y="220">.69</text><text class="b" x="1330" y="220">.87</text><text class="b" x="1358" y="220">.78</text><text class="b" x="1385" y="220">.86</text><text class="b" x="1410" y="220">.64</text><text class="b" x="1432" y="220">.47</text>
<text class="b" x="1655" y="140">.62</text><text class="b" x="1708" y="140">.29</text><text class="b" x="1762" y="140">.55</text><text class="b" x="1817" y="140">.68</text><text class="b" x="1878" y="140">.45</text>
<text class="b" x="1700" y="218">.87</text><text class="b" x="1728" y="218">.79</text><text class="b" x="1755" y="218">.84</text><text class="b" x="1778" y="218">.74</text>
<text class="b" x="1955" y="137">.79</text><text class="b" x="2020" y="137">.25</text><text class="b" x="2085" y="137">.64</text><text class="b" x="2167" y="137">.88</text>
<text class="b" x="2000" y="220">.89</text><text class="b" x="2020" y="220">.50</text><text class="b" x="2043" y="220">.84</text>
<text class="b" x="1297" y="1020">.58</text><text class="b" x="1314" y="1020">.67</text><text class="b" x="1339" y="1020">.75</text>
<text class="b" x="1455" y="1020">.56</text><text class="b" x="1485" y="1020">.77</text><text class="b" x="1530" y="1020">.71</text>
<text class="b" x="1292" y="1078">.43</text><text class="b" x="1345" y="1078">.53</text><text class="b" x="1400" y="1078">.44</text><text class="b" x="1455" y="1078">.56</text><text class="b" x="1510" y="1078">.54</text><text class="b" x="1590" y="1078">.59</text><text class="b" x="1633" y="1078">.50</text>
<text class="b" x="1662" y="1022">1.00</text><text class="b" x="1703" y="1022">.94</text><text class="b" x="1808" y="1022">.65</text><text class="b" x="1856" y="1022">1.00</text>
<text class="b" x="1690" y="1078">.91</text><text class="b" x="1722" y="1078">1.00</text><text class="b" x="1760" y="1078">.08</text><text class="b" x="1790" y="1078">.36</text><text class="b" x="1845" y="1078">.21</text><text class="b" x="1885" y="1078">1.00</text>
<text class="b" x="1945" y="1078">.29</text><text class="b" x="2000" y="1078">.45</text><text class="b" x="2055" y="1078">.55</text><text class="b" x="2110" y="1078">.19</text><text class="b" x="2150" y="1078">.42</text><text class="b" x="2200" y="1078">2.80</text>
<text class="b" x="1928" y="1020">.54</text><text class="b" x="1960" y="1020">.67</text><text class="b" x="1998" y="1020">.74</text><text class="b" x="2102" y="1018">.65</text><text class="b" x="2140" y="1018">.90</text>
<text class="b" x="1450" y="1256">.20</text>
<text class="b" x="2067" y="1244">.01</text>
<text class="b" x="2040" y="1260">-.12</text>
<text class="b" x="2815" y="478">.94</text><text class="b" x="2820" y="503">.89</text><text class="b" x="2783" y="542">.65</text><text class="b" x="2833" y="532">.84</text><text class="b" x="2837" y="558">.85</text><text class="b" x="2893" y="592">.90</text><text class="b" x="2893" y="625">.88</text><text class="b" x="2887" y="650">.91</text><text class="b" x="2890" y="675">.72</text>
<text class="b" x="3030" y="398">.88</text><text class="b" x="3030" y="445">.79</text><text class="b" x="3030" y="492">.70</text><text class="b" x="3030" y="538">.73</text><text class="b" x="3030" y="585">.81</text><text class="b" x="3030" y="633">.78</text><text class="b" x="3030" y="680">.87</text><text class="b" x="3030" y="727">.52</text>
<text class="b" x="3308" y="628">.10</text>
</g>
</svg>
